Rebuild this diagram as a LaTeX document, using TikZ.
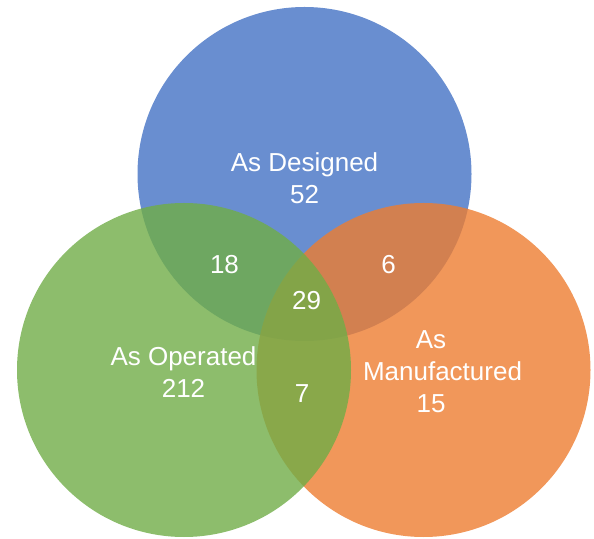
\documentclass[tikz,border=0pt]{standalone}
\usepackage{fontspec}
\setmainfont{Liberation Sans}
\definecolor{setBlue}{HTML}{4472C4}
\definecolor{setGreen}{HTML}{70AD47}
\definecolor{setOrange}{HTML}{ED7D31}
\begin{document}
\begin{tikzpicture}[x=1pt, y=1pt,
            setCircle/.style={circle, minimum size=334pt, inner sep=0pt, fill opacity=0.8},
            setText/.style={text=white, align=center, inner sep=0pt, font=\fontsize{26}{32}\selectfont}]

            \useasboundingbox (0,0) rectangle (594,538);

            % the three sets: blue first, then orange, green on top
            \node[setCircle, fill=setBlue] (D) at (304.5,364) {};
            \node[setCircle, fill=setOrange] (M) at (423.5,168) {};
            \node[setCircle, fill=setGreen] (O) at (184,168) {};

            \node[setText] (DT) at (304.5,360) {As Designed\\52};
            \node[setText] (OT) at (183.5,166) {As Operated\\212};
            \node[setText] (MT) at (431,166) {As\\\hspace*{23pt}Manufactured\\15};

            \node[setText] (DO) at (224.5,273) {18};
            \node[setText] (DM) at (388.5,273) {6};
            \node[setText] (DOM) at (306.5,237) {29};
            \node[setText] (OM) at (302,144.5) {7};

\end{tikzpicture}
\end{document}
